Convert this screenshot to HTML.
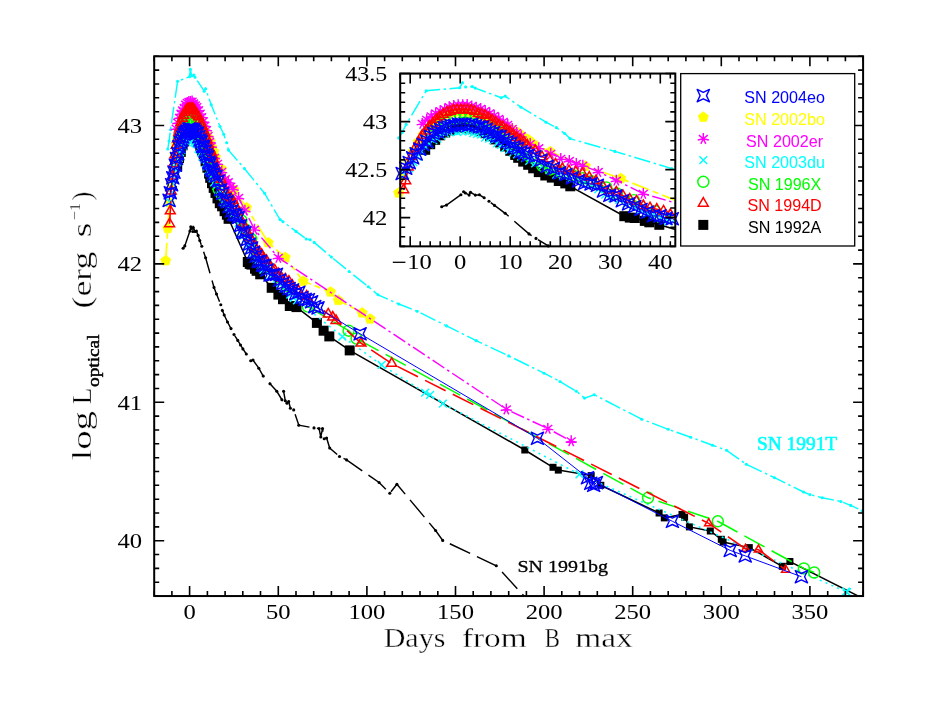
<!DOCTYPE html>
<html><head><meta charset="utf-8"><title>SN light curves</title>
<style>html,body{margin:0;padding:0;background:#fff}svg{display:block;will-change:transform}</style>
</head><body>
<svg width="948" height="708" viewBox="0 0 948 708">
<defs>
<g id="m04eo"><path d="M6.15 6.15 L0.00 3.20 L-6.15 6.15 L-3.20 0.00 L-6.15 -6.15 L-0.00 -3.20 L6.15 -6.15 L3.20 -0.00Z" fill="none" stroke="#0000ff" stroke-width="1.4" stroke-linejoin="round"/></g>
<g id="m02bo"><path d="M0.00 -5.40 L5.14 -1.67 L3.17 4.37 L-3.17 4.37 L-5.14 -1.67Z" fill="#ffff00" stroke="#ffff00" stroke-width="0.6"/></g>
<g id="m02er"><path d="M0 0L0.00 -5.70M0 0L-4.46 -3.55M0 0L-5.56 1.27M0 0L-2.47 5.14M0 0L2.47 5.14M0 0L5.56 1.27M0 0L4.46 -3.55" fill="none" stroke="#ff00ff" stroke-width="1.45"/></g>
<g id="m03du"><path d="M-3.9 -3.9L3.9 3.9M-3.9 3.9L3.9 -3.9" fill="none" stroke="#00ffff" stroke-width="1.45"/></g>
<g id="m96X"><circle r="5.5" fill="none" stroke="#00ff00" stroke-width="1.45"/></g>
<g id="m94D"><path d="M0 -5.7L4.95 2.85L-4.95 2.85Z" fill="none" stroke="#ff0000" stroke-width="1.5" stroke-linejoin="miter"/></g>
<g id="m92A"><rect x="-5" y="-5" width="10" height="10" fill="#000"/></g>
<g id="m92As"><rect x="-3.5" y="-3.5" width="7" height="7" fill="#000"/></g>
<g id="m94Ds"><path d="M0 -4.7L4.1 2.35L-4.1 2.35Z" fill="none" stroke="#ff0000" stroke-width="1.5" stroke-linejoin="miter"/></g>
<g id="m91T"><circle r="1.55" fill="#00ffff"/></g>
<g id="m91bg"><circle r="1.55" fill="#000"/></g>
<clipPath id="cm"><rect x="154.2" y="56.3" width="708.9000000000001" height="539.75"/></clipPath>
<clipPath id="ci"><rect x="400.2" y="73.55" width="275.09999999999997" height="172.8"/></clipPath>
</defs>
<rect width="948" height="708" fill="#fff"/>
<g>
<polyline clip-path="url(#cm)" points="167.8,149 169.1,141.1 170.5,129.7 177.6,81.2 189.5,76.8 190.4,69.4 191.6,75.7 193.9,75.1 195,77.3 204.2,91.2 205.6,88.8 211.2,104.7 220,126.5 223.7,134.2 226.7,142.8 228.5,150.1 244.4,168.5 264.6,193.3 280,219.6 283,221.7 296,231.4 306.3,239 310.2,239.7 314.2,242.4 331.4,257 349.1,271.5 368.3,286.7 378,294.8 398.8,304 417.2,311.2 446.6,325.9 476.2,340.6 508.7,355.9 544.1,373.2 560,381.5 576.3,391.2 584.5,398.1 594.2,394.7 641.7,419.2 668.2,429.3 690.7,437.2 712.5,445.2 726.6,450.3 746.3,464.3 774.5,477.7 803.6,492 809.9,494.6 822.3,497.8 840.9,501.5 850.7,505.4 862.2,510.7 870.2,514.4" fill="none" stroke="#00ffff" stroke-width="1.45" stroke-dasharray="16.5 3.5 2.5 3.5"/>
<use href="#m91T" x="167.8" y="149"/>
<use href="#m91T" x="169.1" y="141.1"/>
<use href="#m91T" x="170.5" y="129.7"/>
<use href="#m91T" x="177.6" y="81.2"/>
<use href="#m91T" x="189.5" y="76.8"/>
<use href="#m91T" x="190.4" y="69.4"/>
<use href="#m91T" x="191.6" y="75.7"/>
<use href="#m91T" x="193.9" y="75.1"/>
<use href="#m91T" x="195" y="77.3"/>
<use href="#m91T" x="204.2" y="91.2"/>
<use href="#m91T" x="205.6" y="88.8"/>
<use href="#m91T" x="211.2" y="104.7"/>
<use href="#m91T" x="220" y="126.5"/>
<use href="#m91T" x="223.7" y="134.2"/>
<use href="#m91T" x="226.7" y="142.8"/>
<use href="#m91T" x="228.5" y="150.1"/>
<use href="#m91T" x="244.4" y="168.5"/>
<use href="#m91T" x="264.6" y="193.3"/>
<use href="#m91T" x="280" y="219.6"/>
<use href="#m91T" x="283" y="221.7"/>
<use href="#m91T" x="296" y="231.4"/>
<use href="#m91T" x="306.3" y="239"/>
<use href="#m91T" x="310.2" y="239.7"/>
<use href="#m91T" x="314.2" y="242.4"/>
<use href="#m91T" x="331.4" y="257"/>
<use href="#m91T" x="349.1" y="271.5"/>
<use href="#m91T" x="368.3" y="286.7"/>
<use href="#m91T" x="378" y="294.8"/>
<use href="#m91T" x="398.8" y="304"/>
<use href="#m91T" x="417.2" y="311.2"/>
<use href="#m91T" x="446.6" y="325.9"/>
<use href="#m91T" x="476.2" y="340.6"/>
<use href="#m91T" x="508.7" y="355.9"/>
<use href="#m91T" x="544.1" y="373.2"/>
<use href="#m91T" x="560" y="381.5"/>
<use href="#m91T" x="576.3" y="391.2"/>
<use href="#m91T" x="584.5" y="398.1"/>
<use href="#m91T" x="594.2" y="394.7"/>
<use href="#m91T" x="641.7" y="419.2"/>
<use href="#m91T" x="668.2" y="429.3"/>
<use href="#m91T" x="690.7" y="437.2"/>
<use href="#m91T" x="712.5" y="445.2"/>
<use href="#m91T" x="726.6" y="450.3"/>
<use href="#m91T" x="746.3" y="464.3"/>
<use href="#m91T" x="774.5" y="477.7"/>
<use href="#m91T" x="803.6" y="492"/>
<use href="#m91T" x="809.9" y="494.6"/>
<use href="#m91T" x="822.3" y="497.8"/>
<use href="#m91T" x="840.9" y="501.5"/>
<use href="#m91T" x="850.7" y="505.4"/>
<use href="#m91T" x="862.2" y="510.7"/>
<polyline clip-path="url(#cm)" points="183.1,248.3 184.8,245.9 189.9,231.1 190.8,226.7 191.5,228.5 192.8,231.5 193.3,227.5 195,231.5 196.4,231.1 198.1,235.4 199.8,240.5 201.8,246.3 205.6,257.8 214,287.4 216.5,294 220.8,304.8 222.4,310.5 224.2,315 227.5,322 231,328.6 234,334.5 237.8,340.4 240.5,345 242.9,348.9 246.3,354 250.7,360.8 253,360 258.8,368.2 263.2,376 270,383.8 276.8,391.3 281.9,399.7 283.6,391.3 285.3,400.8 287,403.2 288.7,401.5 290.4,408.2 293.7,409.9 298.8,425.2 314,427.9 319.1,428.6 320.8,437 322.5,428.6 324.2,438.7 326.6,438 329.7,448 339.5,456.5 346.6,459.9 379.1,482.5 389.8,493.2 396.9,484.2 435.6,530.5 442.7,540.4 496.3,565.8 530,602.5" fill="none" stroke="#000000" stroke-width="1.45" stroke-dasharray="22.5 7.5"/>
<use href="#m91bg" x="183.1" y="248.3"/>
<use href="#m91bg" x="184.8" y="245.9"/>
<use href="#m91bg" x="189.9" y="231.1"/>
<use href="#m91bg" x="190.8" y="226.7"/>
<use href="#m91bg" x="191.5" y="228.5"/>
<use href="#m91bg" x="192.8" y="231.5"/>
<use href="#m91bg" x="193.3" y="227.5"/>
<use href="#m91bg" x="195" y="231.5"/>
<use href="#m91bg" x="196.4" y="231.1"/>
<use href="#m91bg" x="198.1" y="235.4"/>
<use href="#m91bg" x="199.8" y="240.5"/>
<use href="#m91bg" x="201.8" y="246.3"/>
<use href="#m91bg" x="205.6" y="257.8"/>
<use href="#m91bg" x="214" y="287.4"/>
<use href="#m91bg" x="216.5" y="294"/>
<use href="#m91bg" x="220.8" y="304.8"/>
<use href="#m91bg" x="222.4" y="310.5"/>
<use href="#m91bg" x="224.2" y="315"/>
<use href="#m91bg" x="227.5" y="322"/>
<use href="#m91bg" x="231" y="328.6"/>
<use href="#m91bg" x="234" y="334.5"/>
<use href="#m91bg" x="237.8" y="340.4"/>
<use href="#m91bg" x="240.5" y="345"/>
<use href="#m91bg" x="242.9" y="348.9"/>
<use href="#m91bg" x="246.3" y="354"/>
<use href="#m91bg" x="250.7" y="360.8"/>
<use href="#m91bg" x="253" y="360"/>
<use href="#m91bg" x="258.8" y="368.2"/>
<use href="#m91bg" x="263.2" y="376"/>
<use href="#m91bg" x="270" y="383.8"/>
<use href="#m91bg" x="276.8" y="391.3"/>
<use href="#m91bg" x="281.9" y="399.7"/>
<use href="#m91bg" x="283.6" y="391.3"/>
<use href="#m91bg" x="285.3" y="400.8"/>
<use href="#m91bg" x="287" y="403.2"/>
<use href="#m91bg" x="288.7" y="401.5"/>
<use href="#m91bg" x="290.4" y="408.2"/>
<use href="#m91bg" x="293.7" y="409.9"/>
<use href="#m91bg" x="298.8" y="425.2"/>
<use href="#m91bg" x="314" y="427.9"/>
<use href="#m91bg" x="319.1" y="428.6"/>
<use href="#m91bg" x="320.8" y="437"/>
<use href="#m91bg" x="322.5" y="428.6"/>
<use href="#m91bg" x="324.2" y="438.7"/>
<use href="#m91bg" x="326.6" y="438"/>
<use href="#m91bg" x="329.7" y="448"/>
<use href="#m91bg" x="339.5" y="456.5"/>
<use href="#m91bg" x="346.6" y="459.9"/>
<use href="#m91bg" x="379.1" y="482.5"/>
<use href="#m91bg" x="389.8" y="493.2"/>
<use href="#m91bg" x="396.9" y="484.2"/>
<use href="#m91bg" x="435.6" y="530.5"/>
<use href="#m91bg" x="442.7" y="540.4"/>
<use href="#m91bg" x="496.3" y="565.8"/>
<polyline clip-path="url(#cm)" points="177.2,166.3 179,158.1 180.8,151.9 182.6,145.3 184.3,141.3 186.1,138.2 187.9,135.4 189.6,132.6 191.4,134.5 193.2,135.5 195,136.7 196.7,139.1 198.5,142.3 200.3,146.6 202.1,151.3 203.8,155.7 205.6,161.3 207.4,167.7 209.1,173.6 210.2,177.8 212,183.2 213.7,187.9 215.5,192.9 217.5,198.4 219.8,203.2 222.1,206.3 224.6,211.2 226.9,214.7 228.6,218.8 247.8,262 249.7,263.9 251.5,264.6 255,268.7 256.6,270.8 260.2,274.3 271.7,287.8 278.4,294.6 283,299.2 289.8,306 296.5,307.1 316.9,322.9 323.6,330.7 329.3,336.4 349.7,350.4 524.8,450 553,467.3 558.3,470.1 591.2,475.6 600.8,485.3 659.1,513 664.3,517.9 682,514.4 684.6,517.2 689.4,526.9 710.3,531 721.3,539.3 723.1,542.1 749.3,547.6 782.3,566.3 789.9,561.5 872,603" fill="none" stroke="#000000" stroke-width="1.5"/>
<use href="#m92A" x="177.2" y="166.3"/>
<use href="#m92A" x="179" y="158.1"/>
<use href="#m92A" x="180.8" y="151.9"/>
<use href="#m92A" x="182.6" y="145.3"/>
<use href="#m92A" x="184.3" y="141.3"/>
<use href="#m92A" x="186.1" y="138.2"/>
<use href="#m92A" x="187.9" y="135.4"/>
<use href="#m92A" x="189.6" y="132.6"/>
<use href="#m92A" x="191.4" y="134.5"/>
<use href="#m92A" x="193.2" y="135.5"/>
<use href="#m92A" x="195" y="136.7"/>
<use href="#m92A" x="196.7" y="139.1"/>
<use href="#m92A" x="198.5" y="142.3"/>
<use href="#m92A" x="200.3" y="146.6"/>
<use href="#m92A" x="202.1" y="151.3"/>
<use href="#m92A" x="203.8" y="155.7"/>
<use href="#m92A" x="205.6" y="161.3"/>
<use href="#m92A" x="207.4" y="167.7"/>
<use href="#m92A" x="209.1" y="173.6"/>
<use href="#m92A" x="210.2" y="177.8"/>
<use href="#m92A" x="212" y="183.2"/>
<use href="#m92A" x="213.7" y="187.9"/>
<use href="#m92A" x="215.5" y="192.9"/>
<use href="#m92A" x="217.5" y="198.4"/>
<use href="#m92A" x="219.8" y="203.2"/>
<use href="#m92A" x="222.1" y="206.3"/>
<use href="#m92A" x="224.6" y="211.2"/>
<use href="#m92A" x="226.9" y="214.7"/>
<use href="#m92A" x="228.6" y="218.8"/>
<use href="#m92A" x="247.8" y="262"/>
<use href="#m92A" x="249.7" y="263.9"/>
<use href="#m92A" x="251.5" y="264.6"/>
<use href="#m92A" x="255" y="268.7"/>
<use href="#m92A" x="256.6" y="270.8"/>
<use href="#m92A" x="260.2" y="274.3"/>
<use href="#m92A" x="271.7" y="287.8"/>
<use href="#m92A" x="278.4" y="294.6"/>
<use href="#m92A" x="283" y="299.2"/>
<use href="#m92A" x="289.8" y="306"/>
<use href="#m92A" x="296.5" y="307.1"/>
<use href="#m92A" x="316.9" y="322.9"/>
<use href="#m92A" x="323.6" y="330.7"/>
<use href="#m92A" x="329.3" y="336.4"/>
<use href="#m92A" x="349.7" y="350.4"/>
<use href="#m92As" x="524.8" y="450"/>
<use href="#m92As" x="553" y="467.3"/>
<use href="#m92As" x="558.3" y="470.1"/>
<use href="#m92As" x="591.2" y="475.6"/>
<use href="#m92As" x="600.8" y="485.3"/>
<use href="#m92As" x="659.1" y="513"/>
<use href="#m92As" x="664.3" y="517.9"/>
<use href="#m92As" x="682" y="514.4"/>
<use href="#m92As" x="684.6" y="517.2"/>
<use href="#m92As" x="689.4" y="526.9"/>
<use href="#m92As" x="710.3" y="531"/>
<use href="#m92As" x="721.3" y="539.3"/>
<use href="#m92As" x="723.1" y="542.1"/>
<use href="#m92As" x="749.3" y="547.6"/>
<use href="#m92As" x="782.3" y="566.3"/>
<use href="#m92As" x="789.9" y="561.5"/>
<polyline clip-path="url(#cm)" points="165.7,260.7 167.8,228.4 169.4,202.6 171.2,183.7 173,168.5 174.8,154.9 176.5,144.7 178.3,135.5 180.1,128.7 181.8,122.7 183.6,117.4 185.4,113.8 187.2,112.2 188.9,110.8 190.7,110.8 192.5,112 194.3,113.2 196,115.8 197.8,118.2 199.6,119.7 201.3,123.7 203.1,127.8 204.9,131.2 206.7,134.8 208.4,137.7 210.2,141.6 212,147.4 213.7,151.6 215.5,157.2 221.5,169 234,189.8 246.5,207.6 268.2,242.6 285.2,257.4 303.2,281.1 330.5,291.9 338.3,300.3 362.1,312.8 370.1,319" fill="none" stroke="#ffff00" stroke-width="1.7" stroke-dasharray="18 4 6 4"/>
<use href="#m02bo" x="165.7" y="260.7"/>
<use href="#m02bo" x="167.8" y="228.4"/>
<use href="#m02bo" x="169.4" y="202.6"/>
<use href="#m02bo" x="171.2" y="183.7"/>
<use href="#m02bo" x="173" y="168.5"/>
<use href="#m02bo" x="174.8" y="154.9"/>
<use href="#m02bo" x="176.5" y="144.7"/>
<use href="#m02bo" x="178.3" y="135.5"/>
<use href="#m02bo" x="180.1" y="128.7"/>
<use href="#m02bo" x="181.8" y="122.7"/>
<use href="#m02bo" x="183.6" y="117.4"/>
<use href="#m02bo" x="185.4" y="113.8"/>
<use href="#m02bo" x="187.2" y="112.2"/>
<use href="#m02bo" x="188.9" y="110.8"/>
<use href="#m02bo" x="190.7" y="110.8"/>
<use href="#m02bo" x="192.5" y="112"/>
<use href="#m02bo" x="194.3" y="113.2"/>
<use href="#m02bo" x="196" y="115.8"/>
<use href="#m02bo" x="197.8" y="118.2"/>
<use href="#m02bo" x="199.6" y="119.7"/>
<use href="#m02bo" x="201.3" y="123.7"/>
<use href="#m02bo" x="203.1" y="127.8"/>
<use href="#m02bo" x="204.9" y="131.2"/>
<use href="#m02bo" x="206.7" y="134.8"/>
<use href="#m02bo" x="208.4" y="137.7"/>
<use href="#m02bo" x="210.2" y="141.6"/>
<use href="#m02bo" x="212" y="147.4"/>
<use href="#m02bo" x="213.7" y="151.6"/>
<use href="#m02bo" x="215.5" y="157.2"/>
<use href="#m02bo" x="221.5" y="169"/>
<use href="#m02bo" x="234" y="189.8"/>
<use href="#m02bo" x="246.5" y="207.6"/>
<use href="#m02bo" x="268.2" y="242.6"/>
<use href="#m02bo" x="285.2" y="257.4"/>
<use href="#m02bo" x="303.2" y="281.1"/>
<use href="#m02bo" x="330.5" y="291.9"/>
<use href="#m02bo" x="338.3" y="300.3"/>
<use href="#m02bo" x="362.1" y="312.8"/>
<use href="#m02bo" x="370.1" y="319"/>
<polyline clip-path="url(#cm)" points="176.2,128.5 177.8,122.5 179.4,117.5 181,113.4 182.6,110.2 184.2,107.6 185.7,104.4 187.3,102.7 188.9,101.6 190.5,101.7 192.1,101.3 193.7,103.2 195.3,105.2 196.9,106.8 198.5,109.9 200.1,113.4 201.7,116.8 203.3,121.1 204.9,125.5 206.5,129.8 208.1,135.8 209.7,141.7 211.3,146.2 214.5,157.5 217.5,163.5 221.7,171.6 225.3,178.9 228.3,181.9 230.8,186.3 233.1,188.9 238.6,197.7 244.9,210.4 254.5,229.4 278.3,257.6 506.3,409.2 547.8,428.6 571.2,441" fill="none" stroke="#ff00ff" stroke-width="1.45" stroke-dasharray="14 3.5 2.5 3.5"/>
<use href="#m02er" x="176.2" y="128.5"/>
<use href="#m02er" x="177.8" y="122.5"/>
<use href="#m02er" x="179.4" y="117.5"/>
<use href="#m02er" x="181" y="113.4"/>
<use href="#m02er" x="182.6" y="110.2"/>
<use href="#m02er" x="184.2" y="107.6"/>
<use href="#m02er" x="185.7" y="104.4"/>
<use href="#m02er" x="187.3" y="102.7"/>
<use href="#m02er" x="188.9" y="101.6"/>
<use href="#m02er" x="190.5" y="101.7"/>
<use href="#m02er" x="192.1" y="101.3"/>
<use href="#m02er" x="193.7" y="103.2"/>
<use href="#m02er" x="195.3" y="105.2"/>
<use href="#m02er" x="196.9" y="106.8"/>
<use href="#m02er" x="198.5" y="109.9"/>
<use href="#m02er" x="200.1" y="113.4"/>
<use href="#m02er" x="201.7" y="116.8"/>
<use href="#m02er" x="203.3" y="121.1"/>
<use href="#m02er" x="204.9" y="125.5"/>
<use href="#m02er" x="206.5" y="129.8"/>
<use href="#m02er" x="208.1" y="135.8"/>
<use href="#m02er" x="209.7" y="141.7"/>
<use href="#m02er" x="211.3" y="146.2"/>
<use href="#m02er" x="214.5" y="157.5"/>
<use href="#m02er" x="217.5" y="163.5"/>
<use href="#m02er" x="221.7" y="171.6"/>
<use href="#m02er" x="225.3" y="178.9"/>
<use href="#m02er" x="228.3" y="181.9"/>
<use href="#m02er" x="230.8" y="186.3"/>
<use href="#m02er" x="233.1" y="188.9"/>
<use href="#m02er" x="238.6" y="197.7"/>
<use href="#m02er" x="244.9" y="210.4"/>
<use href="#m02er" x="254.5" y="229.4"/>
<use href="#m02er" x="278.3" y="257.6"/>
<use href="#m02er" x="506.3" y="409.2"/>
<use href="#m02er" x="547.8" y="428.6"/>
<use href="#m02er" x="571.2" y="441"/>
<polyline clip-path="url(#cm)" points="170.2,202.4 171.6,193 173,183.8 174.4,175.8 175.8,169 177.2,162.4 178.7,157.9 180.1,152.3 181.5,149.9 182.9,145.7 184.3,142.7 185.7,140.9 187.2,139.3 188.6,140.7 190,138.8 191.4,138.9 192.8,139.8 194.3,142.3 195.7,143.1 197.1,144.1 198.5,148.8 199.9,150.1 201.3,152.5 202.8,156.8 204.2,159.1 205.6,163.6 207,166.7 208.4,170.1 209.8,172.8 211.3,176.1 212.7,178.3 214.1,182.3 216.2,185.8 218.7,189.7 221.2,195.3 223.7,202.1 226.2,203.8 228.6,208 231.1,209.9 233.6,213.2 236.1,216.6 238.6,223.2 241,231 243.5,235.7 246,238.4 248.5,244.5 251,247.5 253.4,252.8 255.9,258.1 258.4,259.8 260.9,265.2 263.4,269.5 266.7,268.3 270.1,275.9 273.5,276.1 276.8,278.8 280.2,282.9 283.6,288.2 286.9,288.5 290.3,294.6 293.7,298 297,300.4 342.4,336.6 381.6,364.9 425.2,392.7 430.1,394.8 442.9,403.7 579.5,474.3 845.9,591.6 847,592.2" fill="none" stroke="#00ffff" stroke-width="1.6" stroke-dasharray="2 4.3"/>
<use href="#m03du" x="170.2" y="202.4"/>
<use href="#m03du" x="171.6" y="193"/>
<use href="#m03du" x="173" y="183.8"/>
<use href="#m03du" x="174.4" y="175.8"/>
<use href="#m03du" x="175.8" y="169"/>
<use href="#m03du" x="177.2" y="162.4"/>
<use href="#m03du" x="178.7" y="157.9"/>
<use href="#m03du" x="180.1" y="152.3"/>
<use href="#m03du" x="181.5" y="149.9"/>
<use href="#m03du" x="182.9" y="145.7"/>
<use href="#m03du" x="184.3" y="142.7"/>
<use href="#m03du" x="185.7" y="140.9"/>
<use href="#m03du" x="187.2" y="139.3"/>
<use href="#m03du" x="188.6" y="140.7"/>
<use href="#m03du" x="190" y="138.8"/>
<use href="#m03du" x="191.4" y="138.9"/>
<use href="#m03du" x="192.8" y="139.8"/>
<use href="#m03du" x="194.3" y="142.3"/>
<use href="#m03du" x="195.7" y="143.1"/>
<use href="#m03du" x="197.1" y="144.1"/>
<use href="#m03du" x="198.5" y="148.8"/>
<use href="#m03du" x="199.9" y="150.1"/>
<use href="#m03du" x="201.3" y="152.5"/>
<use href="#m03du" x="202.8" y="156.8"/>
<use href="#m03du" x="204.2" y="159.1"/>
<use href="#m03du" x="205.6" y="163.6"/>
<use href="#m03du" x="207" y="166.7"/>
<use href="#m03du" x="208.4" y="170.1"/>
<use href="#m03du" x="209.8" y="172.8"/>
<use href="#m03du" x="211.3" y="176.1"/>
<use href="#m03du" x="212.7" y="178.3"/>
<use href="#m03du" x="214.1" y="182.3"/>
<use href="#m03du" x="216.2" y="185.8"/>
<use href="#m03du" x="218.7" y="189.7"/>
<use href="#m03du" x="221.2" y="195.3"/>
<use href="#m03du" x="223.7" y="202.1"/>
<use href="#m03du" x="226.2" y="203.8"/>
<use href="#m03du" x="228.6" y="208"/>
<use href="#m03du" x="231.1" y="209.9"/>
<use href="#m03du" x="233.6" y="213.2"/>
<use href="#m03du" x="236.1" y="216.6"/>
<use href="#m03du" x="238.6" y="223.2"/>
<use href="#m03du" x="241" y="231"/>
<use href="#m03du" x="243.5" y="235.7"/>
<use href="#m03du" x="246" y="238.4"/>
<use href="#m03du" x="248.5" y="244.5"/>
<use href="#m03du" x="251" y="247.5"/>
<use href="#m03du" x="253.4" y="252.8"/>
<use href="#m03du" x="255.9" y="258.1"/>
<use href="#m03du" x="258.4" y="259.8"/>
<use href="#m03du" x="260.9" y="265.2"/>
<use href="#m03du" x="263.4" y="269.5"/>
<use href="#m03du" x="266.7" y="268.3"/>
<use href="#m03du" x="270.1" y="275.9"/>
<use href="#m03du" x="273.5" y="276.1"/>
<use href="#m03du" x="276.8" y="278.8"/>
<use href="#m03du" x="280.2" y="282.9"/>
<use href="#m03du" x="283.6" y="288.2"/>
<use href="#m03du" x="286.9" y="288.5"/>
<use href="#m03du" x="290.3" y="294.6"/>
<use href="#m03du" x="293.7" y="298"/>
<use href="#m03du" x="297" y="300.4"/>
<use href="#m03du" x="342.4" y="336.6"/>
<use href="#m03du" x="381.6" y="364.9"/>
<use href="#m03du" x="425.2" y="392.7"/>
<use href="#m03du" x="430.1" y="394.8"/>
<use href="#m03du" x="442.9" y="403.7"/>
<use href="#m03du" x="579.5" y="474.3"/>
<use href="#m03du" x="845.9" y="591.6"/>
<use href="#m03du" x="847" y="592.2"/>
<polyline clip-path="url(#cm)" points="179,138.9 180.8,132.9 182.6,127.8 184.3,124.9 186.1,122.1 187.9,120.8 189.6,119.4 191.4,119.4 193.2,120.8 195,122.1 196.7,125.1 198.5,128.3 200.3,131.7 202.1,136.1 203.8,140.4 205.6,146 207.4,150.8 209.1,157.7 210.9,163.7 212.7,170.8 214.5,176.7 218.7,189.5 221.5,194.5 225.1,198.2 229.5,202.8 233.1,207.4 236.1,211.6 241.4,220.5 245.1,229.2 251.1,238.8 258.8,254.9 267.6,266.2 278.3,277.1 288.9,286.7 307.9,306.6 348.6,330.7 356.6,338.6 648.1,497.8 717.8,521.3 803.9,568.4 814.2,572.5" fill="none" stroke="#00ff00" stroke-width="1.5" stroke-dasharray="23 8"/>
<use href="#m96X" x="179" y="138.9"/>
<use href="#m96X" x="180.8" y="132.9"/>
<use href="#m96X" x="182.6" y="127.8"/>
<use href="#m96X" x="184.3" y="124.9"/>
<use href="#m96X" x="186.1" y="122.1"/>
<use href="#m96X" x="187.9" y="120.8"/>
<use href="#m96X" x="189.6" y="119.4"/>
<use href="#m96X" x="191.4" y="119.4"/>
<use href="#m96X" x="193.2" y="120.8"/>
<use href="#m96X" x="195" y="122.1"/>
<use href="#m96X" x="196.7" y="125.1"/>
<use href="#m96X" x="198.5" y="128.3"/>
<use href="#m96X" x="200.3" y="131.7"/>
<use href="#m96X" x="202.1" y="136.1"/>
<use href="#m96X" x="203.8" y="140.4"/>
<use href="#m96X" x="205.6" y="146"/>
<use href="#m96X" x="207.4" y="150.8"/>
<use href="#m96X" x="209.1" y="157.7"/>
<use href="#m96X" x="210.9" y="163.7"/>
<use href="#m96X" x="212.7" y="170.8"/>
<use href="#m96X" x="214.5" y="176.7"/>
<use href="#m96X" x="218.7" y="189.5"/>
<use href="#m96X" x="221.5" y="194.5"/>
<use href="#m96X" x="225.1" y="198.2"/>
<use href="#m96X" x="229.5" y="202.8"/>
<use href="#m96X" x="233.1" y="207.4"/>
<use href="#m96X" x="236.1" y="211.6"/>
<use href="#m96X" x="241.4" y="220.5"/>
<use href="#m96X" x="245.1" y="229.2"/>
<use href="#m96X" x="251.1" y="238.8"/>
<use href="#m96X" x="258.8" y="254.9"/>
<use href="#m96X" x="267.6" y="266.2"/>
<use href="#m96X" x="278.3" y="277.1"/>
<use href="#m96X" x="288.9" y="286.7"/>
<use href="#m96X" x="307.9" y="306.6"/>
<use href="#m96X" x="348.6" y="330.7"/>
<use href="#m96X" x="356.6" y="338.6"/>
<use href="#m96X" x="648.1" y="497.8"/>
<use href="#m96X" x="717.8" y="521.3"/>
<use href="#m96X" x="803.9" y="568.4"/>
<use href="#m96X" x="814.2" y="572.5"/>
<polyline clip-path="url(#cm)" points="169.6,223.8 170.3,211 171.2,191.2 172.5,176.2 173.7,163.8 174.9,154.9 176.2,145.3 177.4,139.2 178.7,132.7 179.9,128 181.1,122.4 182.4,118.5 183.6,115.3 184.9,112.3 186.1,110.7 187.3,108.9 188.6,108.8 189.8,108.8 191.1,108.5 192.3,108.7 193.5,109.2 194.8,110.9 196,114.2 197.3,115.1 198.5,116.8 199.7,120.1 201,123.4 202.2,126.3 203.5,130.3 204.7,133.2 205.9,137.2 207.2,140.1 208.4,144.3 209.7,148.6 210.9,151.5 212.2,154.9 213.4,159.3 216.2,167.5 218.6,176.3 221,179.3 223.4,187 225.8,193.5 228.2,196.7 230.6,198.1 233,200.5 235.4,205.9 237.8,211 240.2,218.7 242.5,224.7 244.9,227.2 247.3,232.5 249.7,237.6 252.1,240.4 254.5,246.8 256.9,250 259.3,252 261.7,254.5 264.1,259.7 266.5,260.6 271.2,267.8 274.7,270.1 278.3,273.8 281.8,278.4 285.3,279.3 288.9,281.4 292.4,285.5 298.6,291 306.6,296.3 328.2,314.1 332.7,317.2 336,320.6 361,343.2 391.7,363.5 708.7,523.4 745.6,549 758.4,549.7 785.7,569.8" fill="none" stroke="#ff0000" stroke-width="1.6" stroke-dasharray="23 8"/>
<use href="#m94D" x="169.6" y="223.8"/>
<use href="#m94D" x="170.3" y="211"/>
<use href="#m94D" x="171.2" y="191.2"/>
<use href="#m94D" x="172.5" y="176.2"/>
<use href="#m94D" x="173.7" y="163.8"/>
<use href="#m94D" x="174.9" y="154.9"/>
<use href="#m94D" x="176.2" y="145.3"/>
<use href="#m94D" x="177.4" y="139.2"/>
<use href="#m94D" x="178.7" y="132.7"/>
<use href="#m94D" x="179.9" y="128"/>
<use href="#m94D" x="181.1" y="122.4"/>
<use href="#m94D" x="182.4" y="118.5"/>
<use href="#m94D" x="183.6" y="115.3"/>
<use href="#m94D" x="184.9" y="112.3"/>
<use href="#m94D" x="186.1" y="110.7"/>
<use href="#m94D" x="187.3" y="108.9"/>
<use href="#m94D" x="188.6" y="108.8"/>
<use href="#m94D" x="189.8" y="108.8"/>
<use href="#m94D" x="191.1" y="108.5"/>
<use href="#m94D" x="192.3" y="108.7"/>
<use href="#m94D" x="193.5" y="109.2"/>
<use href="#m94D" x="194.8" y="110.9"/>
<use href="#m94D" x="196" y="114.2"/>
<use href="#m94D" x="197.3" y="115.1"/>
<use href="#m94D" x="198.5" y="116.8"/>
<use href="#m94D" x="199.7" y="120.1"/>
<use href="#m94D" x="201" y="123.4"/>
<use href="#m94D" x="202.2" y="126.3"/>
<use href="#m94D" x="203.5" y="130.3"/>
<use href="#m94D" x="204.7" y="133.2"/>
<use href="#m94D" x="205.9" y="137.2"/>
<use href="#m94D" x="207.2" y="140.1"/>
<use href="#m94D" x="208.4" y="144.3"/>
<use href="#m94D" x="209.7" y="148.6"/>
<use href="#m94D" x="210.9" y="151.5"/>
<use href="#m94D" x="212.2" y="154.9"/>
<use href="#m94D" x="213.4" y="159.3"/>
<use href="#m94D" x="216.2" y="167.5"/>
<use href="#m94D" x="218.6" y="176.3"/>
<use href="#m94D" x="221" y="179.3"/>
<use href="#m94D" x="223.4" y="187"/>
<use href="#m94D" x="225.8" y="193.5"/>
<use href="#m94D" x="228.2" y="196.7"/>
<use href="#m94D" x="230.6" y="198.1"/>
<use href="#m94D" x="233" y="200.5"/>
<use href="#m94D" x="235.4" y="205.9"/>
<use href="#m94D" x="237.8" y="211"/>
<use href="#m94D" x="240.2" y="218.7"/>
<use href="#m94D" x="242.5" y="224.7"/>
<use href="#m94D" x="244.9" y="227.2"/>
<use href="#m94D" x="247.3" y="232.5"/>
<use href="#m94D" x="249.7" y="237.6"/>
<use href="#m94D" x="252.1" y="240.4"/>
<use href="#m94D" x="254.5" y="246.8"/>
<use href="#m94D" x="256.9" y="250"/>
<use href="#m94D" x="259.3" y="252"/>
<use href="#m94D" x="261.7" y="254.5"/>
<use href="#m94D" x="264.1" y="259.7"/>
<use href="#m94D" x="266.5" y="260.6"/>
<use href="#m94D" x="271.2" y="267.8"/>
<use href="#m94D" x="274.7" y="270.1"/>
<use href="#m94D" x="278.3" y="273.8"/>
<use href="#m94D" x="281.8" y="278.4"/>
<use href="#m94D" x="285.3" y="279.3"/>
<use href="#m94D" x="288.9" y="281.4"/>
<use href="#m94D" x="292.4" y="285.5"/>
<use href="#m94D" x="298.6" y="291"/>
<use href="#m94D" x="306.6" y="296.3"/>
<use href="#m94D" x="328.2" y="314.1"/>
<use href="#m94D" x="332.7" y="317.2"/>
<use href="#m94D" x="336" y="320.6"/>
<use href="#m94D" x="361" y="343.2"/>
<use href="#m94D" x="391.7" y="363.5"/>
<use href="#m94Ds" x="708.7" y="523.4"/>
<use href="#m94Ds" x="745.6" y="549"/>
<use href="#m94Ds" x="758.4" y="549.7"/>
<use href="#m94Ds" x="785.7" y="569.8"/>
<polyline clip-path="url(#cm)" points="169.1,200.4 170.3,192.7 171.6,184.7 172.8,177.8 174,172.1 175.3,165.2 176.5,158.5 177.8,153.6 179,146.6 180.3,142.5 181.5,140.1 182.7,137 184,134.3 185.2,132.9 186.5,131.4 187.7,131.2 188.9,129.1 190.2,129.3 191.4,129.4 192.7,131 193.9,129.3 195.1,131.4 196.4,133.2 197.6,133.2 198.9,136.7 200.1,140 201.3,141.9 202.6,146.1 203.8,146.9 205.1,151.1 206.3,154.7 207.5,156.8 208.8,162.1 210,163.9 211.3,168.9 212.5,170.9 213.7,174 216.1,176.1 218.3,181 220.5,189.8 222.7,193.4 224.9,199.5 227.1,201.9 229.3,206.7 231.6,211 233.8,214.4 236,215.3 238.2,217.5 240.4,225.7 242.6,231.8 244.9,232.7 247.1,239.7 249.3,244.2 251.5,248 253.7,252.4 255.9,256.3 258.1,261.4 260.4,261.5 262.6,265.2 264.8,265.5 267,270 270.1,275 273.3,274.7 276.5,274.4 279.7,280.1 282.9,283.4 286.1,286.4 289.2,288.6 292.4,290 295.6,293.8 298.8,292.3 302,297.5 305.2,299.4 308.4,299.7 311.6,301.8 314.8,306.6 318,307.9 360.1,333.8 537.4,438.3 587.5,477.7 590.7,483.3 593.7,485.3 596.4,482.6 672.4,521.3 730.2,550.4 745.2,555.9 801.4,576.7" fill="none" stroke="#0000ff" stroke-width="1.0"/>
<use href="#m04eo" x="169.1" y="200.4"/>
<use href="#m04eo" x="170.3" y="192.7"/>
<use href="#m04eo" x="171.6" y="184.7"/>
<use href="#m04eo" x="172.8" y="177.8"/>
<use href="#m04eo" x="174" y="172.1"/>
<use href="#m04eo" x="175.3" y="165.2"/>
<use href="#m04eo" x="176.5" y="158.5"/>
<use href="#m04eo" x="177.8" y="153.6"/>
<use href="#m04eo" x="179" y="146.6"/>
<use href="#m04eo" x="180.3" y="142.5"/>
<use href="#m04eo" x="181.5" y="140.1"/>
<use href="#m04eo" x="182.7" y="137"/>
<use href="#m04eo" x="184" y="134.3"/>
<use href="#m04eo" x="185.2" y="132.9"/>
<use href="#m04eo" x="186.5" y="131.4"/>
<use href="#m04eo" x="187.7" y="131.2"/>
<use href="#m04eo" x="188.9" y="129.1"/>
<use href="#m04eo" x="190.2" y="129.3"/>
<use href="#m04eo" x="191.4" y="129.4"/>
<use href="#m04eo" x="192.7" y="131"/>
<use href="#m04eo" x="193.9" y="129.3"/>
<use href="#m04eo" x="195.1" y="131.4"/>
<use href="#m04eo" x="196.4" y="133.2"/>
<use href="#m04eo" x="197.6" y="133.2"/>
<use href="#m04eo" x="198.9" y="136.7"/>
<use href="#m04eo" x="200.1" y="140"/>
<use href="#m04eo" x="201.3" y="141.9"/>
<use href="#m04eo" x="202.6" y="146.1"/>
<use href="#m04eo" x="203.8" y="146.9"/>
<use href="#m04eo" x="205.1" y="151.1"/>
<use href="#m04eo" x="206.3" y="154.7"/>
<use href="#m04eo" x="207.5" y="156.8"/>
<use href="#m04eo" x="208.8" y="162.1"/>
<use href="#m04eo" x="210" y="163.9"/>
<use href="#m04eo" x="211.3" y="168.9"/>
<use href="#m04eo" x="212.5" y="170.9"/>
<use href="#m04eo" x="213.7" y="174"/>
<use href="#m04eo" x="216.1" y="176.1"/>
<use href="#m04eo" x="218.3" y="181"/>
<use href="#m04eo" x="220.5" y="189.8"/>
<use href="#m04eo" x="222.7" y="193.4"/>
<use href="#m04eo" x="224.9" y="199.5"/>
<use href="#m04eo" x="227.1" y="201.9"/>
<use href="#m04eo" x="229.3" y="206.7"/>
<use href="#m04eo" x="231.6" y="211"/>
<use href="#m04eo" x="233.8" y="214.4"/>
<use href="#m04eo" x="236" y="215.3"/>
<use href="#m04eo" x="238.2" y="217.5"/>
<use href="#m04eo" x="240.4" y="225.7"/>
<use href="#m04eo" x="242.6" y="231.8"/>
<use href="#m04eo" x="244.9" y="232.7"/>
<use href="#m04eo" x="247.1" y="239.7"/>
<use href="#m04eo" x="249.3" y="244.2"/>
<use href="#m04eo" x="251.5" y="248"/>
<use href="#m04eo" x="253.7" y="252.4"/>
<use href="#m04eo" x="255.9" y="256.3"/>
<use href="#m04eo" x="258.1" y="261.4"/>
<use href="#m04eo" x="260.4" y="261.5"/>
<use href="#m04eo" x="262.6" y="265.2"/>
<use href="#m04eo" x="264.8" y="265.5"/>
<use href="#m04eo" x="267" y="270"/>
<use href="#m04eo" x="270.1" y="275"/>
<use href="#m04eo" x="273.3" y="274.7"/>
<use href="#m04eo" x="276.5" y="274.4"/>
<use href="#m04eo" x="279.7" y="280.1"/>
<use href="#m04eo" x="282.9" y="283.4"/>
<use href="#m04eo" x="286.1" y="286.4"/>
<use href="#m04eo" x="289.2" y="288.6"/>
<use href="#m04eo" x="292.4" y="290"/>
<use href="#m04eo" x="295.6" y="293.8"/>
<use href="#m04eo" x="298.8" y="292.3"/>
<use href="#m04eo" x="302" y="297.5"/>
<use href="#m04eo" x="305.2" y="299.4"/>
<use href="#m04eo" x="308.4" y="299.7"/>
<use href="#m04eo" x="311.6" y="301.8"/>
<use href="#m04eo" x="314.8" y="306.6"/>
<use href="#m04eo" x="318" y="307.9"/>
<use href="#m04eo" x="360.1" y="333.8"/>
<use href="#m04eo" x="537.4" y="438.3"/>
<use href="#m04eo" x="587.5" y="477.7"/>
<use href="#m04eo" x="590.7" y="483.3"/>
<use href="#m04eo" x="593.7" y="485.3"/>
<use href="#m04eo" x="596.4" y="482.6"/>
<use href="#m04eo" x="672.4" y="521.3"/>
<use href="#m04eo" x="730.2" y="550.4"/>
<use href="#m04eo" x="745.2" y="555.9"/>
<use href="#m04eo" x="801.4" y="576.7"/>
</g>
<rect x="399.2" y="72.55" width="456.50000000000006" height="174.8" fill="#fff"/>
<g>
<polyline clip-path="url(#ci)" points="398.7,137.9 402.2,132.4 406.2,124.4 426.2,90.8 459.7,87.8 462.5,82.7 465.7,87 472.2,86.6 475.2,88.1 501.2,97.7 505.2,96.1 521,107.2 546,122.2 556.3,127.6 564.8,133.6 570,138.6 614.8,151.4 671.8,168.6 715.3,186.8 723.8,188.3 760.3,195 789.3,200.3 800.3,200.8 811.8,202.7 860.4,212.8 910.4,222.8 964.4,233.4 991.9,239 1050.4,245.4 1102.5,250.4 1185.5,260.6 1269,270.7 1360.5,281.4 1460.6,293.4 1505.6,299.2 1551.6,305.9 1574.6,310.7 1602.1,308.3 1736.2,325.3 1810.7,332.3 1874.2,337.7 1935.8,343.3 1975.8,346.9 2031.3,356.6 2110.8,365.9 2192.9,375.8 2210.9,377.6 2245.9,379.8 2298.4,382.4 2325.9,385.1 2358.4,388.7 2380.9,391.3" fill="none" stroke="#00ffff" stroke-width="1.45" stroke-dasharray="16.5 3.5 2.5 3.5"/>
<use href="#m91T" x="398.7" y="137.9"/>
<use href="#m91T" x="402.2" y="132.4"/>
<use href="#m91T" x="406.2" y="124.4"/>
<use href="#m91T" x="426.2" y="90.8"/>
<use href="#m91T" x="459.7" y="87.8"/>
<use href="#m91T" x="462.5" y="82.7"/>
<use href="#m91T" x="465.7" y="87"/>
<use href="#m91T" x="472.2" y="86.6"/>
<use href="#m91T" x="475.2" y="88.1"/>
<use href="#m91T" x="501.2" y="97.7"/>
<use href="#m91T" x="505.2" y="96.1"/>
<use href="#m91T" x="521" y="107.2"/>
<use href="#m91T" x="546" y="122.2"/>
<use href="#m91T" x="556.3" y="127.6"/>
<use href="#m91T" x="564.8" y="133.6"/>
<use href="#m91T" x="570" y="138.6"/>
<use href="#m91T" x="614.8" y="151.4"/>
<use href="#m91T" x="671.8" y="168.6"/>
<polyline clip-path="url(#ci)" points="441.7,206.7 446.5,205.1 460.9,194.8 463.6,191.7 465.4,193 469.1,195.1 470.5,192.3 475.3,195.1 479.4,194.8 484.2,197.8 489,201.3 494.5,205.4 505.2,213.3 529,233.9 536,238.4 548.2,245.9 552.7,249.9 557.7,253 567.1,257.9 576.9,262.4 585.4,266.5 596.1,270.6 603.7,273.8 610.5,276.5 620.1,280.1 632.5,284.8 639,284.2 655.4,289.9 667.8,295.3 687,300.7 706.2,305.9 720.6,311.8 725.4,305.9 730.2,312.5 735,314.2 739.8,313 744.6,317.6 753.9,318.8 768.3,329.4 811.2,331.3 825.6,331.8 830.4,337.6 835.2,331.8 840,338.8 846.7,338.3 855.5,345.3 883.2,351.2 903.2,353.5 994.9,369.2 1025.1,376.6 1045.2,370.4 1154.4,402.5 1174.4,409.3 1325.7,427 1420.8,452.4" fill="none" stroke="#000000" stroke-width="1.45" stroke-dasharray="22.5 7.5"/>
<use href="#m91bg" x="441.7" y="206.7"/>
<use href="#m91bg" x="446.5" y="205.1"/>
<use href="#m91bg" x="460.9" y="194.8"/>
<use href="#m91bg" x="463.6" y="191.7"/>
<use href="#m91bg" x="465.4" y="193"/>
<use href="#m91bg" x="469.1" y="195.1"/>
<use href="#m91bg" x="470.5" y="192.3"/>
<use href="#m91bg" x="475.3" y="195.1"/>
<use href="#m91bg" x="479.4" y="194.8"/>
<use href="#m91bg" x="484.2" y="197.8"/>
<use href="#m91bg" x="489" y="201.3"/>
<use href="#m91bg" x="494.5" y="205.4"/>
<use href="#m91bg" x="505.2" y="213.3"/>
<use href="#m91bg" x="529" y="233.9"/>
<use href="#m91bg" x="536" y="238.4"/>
<use href="#m91bg" x="548.2" y="245.9"/>
<polyline clip-path="url(#ci)" points="425.2,149.8 430.2,144.2 435.2,139.8 440.2,135.3 445.2,132.5 450.2,130.3 455.2,128.4 460.2,126.5 465.2,127.8 470.2,128.5 475.2,129.4 480.2,131 485.2,133.2 490.2,136.2 495.2,139.4 500.2,142.5 505.2,146.4 510.2,150.8 515.2,154.9 518.2,157.8 523.2,161.6 528.2,164.8 533.2,168.3 538.8,172.1 545.3,175.5 551.8,177.6 558.8,181 565.3,183.4 570.3,186.3 624.3,216.2 629.8,217.6 634.8,218 644.8,220.9 649.3,222.3 659.3,224.8 691.8,234.2 710.8,238.9 723.8,242 742.8,246.7 761.8,247.5 819.4,258.4 838.4,263.9 854.4,267.9 911.9,277.6 1406.1,346.7 1485.6,358.7 1500.6,360.6 1593.6,364.4 1620.6,371.2 1785.2,390.4 1799.7,393.7 1849.7,391.3 1857.2,393.2 1870.7,400 1929.8,402.8 1960.8,408.6 1965.8,410.5 2039.8,414.4 2132.8,427.3 2154.3,424 2385.9,452.8" fill="none" stroke="#000000" stroke-width="1.5"/>
<use href="#m92A" x="425.2" y="149.8"/>
<use href="#m92A" x="430.2" y="144.2"/>
<use href="#m92A" x="435.2" y="139.8"/>
<use href="#m92A" x="440.2" y="135.3"/>
<use href="#m92A" x="445.2" y="132.5"/>
<use href="#m92A" x="450.2" y="130.3"/>
<use href="#m92A" x="455.2" y="128.4"/>
<use href="#m92A" x="460.2" y="126.5"/>
<use href="#m92A" x="465.2" y="127.8"/>
<use href="#m92A" x="470.2" y="128.5"/>
<use href="#m92A" x="475.2" y="129.4"/>
<use href="#m92A" x="480.2" y="131"/>
<use href="#m92A" x="485.2" y="133.2"/>
<use href="#m92A" x="490.2" y="136.2"/>
<use href="#m92A" x="495.2" y="139.4"/>
<use href="#m92A" x="500.2" y="142.5"/>
<use href="#m92A" x="505.2" y="146.4"/>
<use href="#m92A" x="510.2" y="150.8"/>
<use href="#m92A" x="515.2" y="154.9"/>
<use href="#m92A" x="518.2" y="157.8"/>
<use href="#m92A" x="523.2" y="161.6"/>
<use href="#m92A" x="528.2" y="164.8"/>
<use href="#m92A" x="533.2" y="168.3"/>
<use href="#m92A" x="538.8" y="172.1"/>
<use href="#m92A" x="545.3" y="175.5"/>
<use href="#m92A" x="551.8" y="177.6"/>
<use href="#m92A" x="558.8" y="181"/>
<use href="#m92A" x="565.3" y="183.4"/>
<use href="#m92A" x="570.3" y="186.3"/>
<use href="#m92A" x="624.3" y="216.2"/>
<use href="#m92A" x="629.8" y="217.6"/>
<use href="#m92A" x="634.8" y="218"/>
<use href="#m92A" x="644.8" y="220.9"/>
<use href="#m92A" x="649.3" y="222.3"/>
<use href="#m92A" x="659.3" y="224.8"/>
<polyline clip-path="url(#ci)" points="392.7,215.3 398.7,193 403.2,175 408.2,161.9 413.2,151.4 418.2,141.9 423.2,134.9 428.2,128.5 433.2,123.7 438.2,119.6 443.2,115.9 448.2,113.5 453.2,112.3 458.2,111.4 463.2,111.3 468.2,112.2 473.2,113.1 478.2,114.8 483.2,116.5 488.2,117.6 493.2,120.3 498.2,123.1 503.2,125.5 508.2,128 513.2,130 518.2,132.7 523.2,136.7 528.2,139.7 533.2,143.6 550.3,151.7 585.3,166.1 620.8,178.5 681.8,202.8 729.8,213 780.8,229.5 857.9,236.9 879.9,242.8 946.9,251.4 969.4,255.8" fill="none" stroke="#ffff00" stroke-width="1.7" stroke-dasharray="18 4 6 4"/>
<use href="#m02bo" x="398.7" y="193"/>
<use href="#m02bo" x="403.2" y="175"/>
<use href="#m02bo" x="408.2" y="161.9"/>
<use href="#m02bo" x="413.2" y="151.4"/>
<use href="#m02bo" x="418.2" y="141.9"/>
<use href="#m02bo" x="423.2" y="134.9"/>
<use href="#m02bo" x="428.2" y="128.5"/>
<use href="#m02bo" x="433.2" y="123.7"/>
<use href="#m02bo" x="438.2" y="119.6"/>
<use href="#m02bo" x="443.2" y="115.9"/>
<use href="#m02bo" x="448.2" y="113.5"/>
<use href="#m02bo" x="453.2" y="112.3"/>
<use href="#m02bo" x="458.2" y="111.4"/>
<use href="#m02bo" x="463.2" y="111.3"/>
<use href="#m02bo" x="468.2" y="112.2"/>
<use href="#m02bo" x="473.2" y="113.1"/>
<use href="#m02bo" x="478.2" y="114.8"/>
<use href="#m02bo" x="483.2" y="116.5"/>
<use href="#m02bo" x="488.2" y="117.6"/>
<use href="#m02bo" x="493.2" y="120.3"/>
<use href="#m02bo" x="498.2" y="123.1"/>
<use href="#m02bo" x="503.2" y="125.5"/>
<use href="#m02bo" x="508.2" y="128"/>
<use href="#m02bo" x="513.2" y="130"/>
<use href="#m02bo" x="518.2" y="132.7"/>
<use href="#m02bo" x="523.2" y="136.7"/>
<use href="#m02bo" x="528.2" y="139.7"/>
<use href="#m02bo" x="533.2" y="143.6"/>
<use href="#m02bo" x="550.3" y="151.7"/>
<use href="#m02bo" x="585.3" y="166.1"/>
<use href="#m02bo" x="620.8" y="178.5"/>
<polyline clip-path="url(#ci)" points="422.2,123.6 426.7,119.5 431.2,116 435.7,113.2 440.2,110.9 444.7,109.1 449.2,106.9 453.7,105.7 458.2,105 462.7,105 467.2,104.8 471.7,106.1 476.2,107.4 480.7,108.6 485.2,110.7 489.7,113.1 494.2,115.5 498.7,118.5 503.2,121.5 507.7,124.6 512.2,128.7 516.7,132.8 521.2,135.9 530.2,143.8 538.8,147.9 550.8,153.5 560.8,158.6 569.3,160.7 576.3,163.7 582.8,165.5 598.3,171.7 616.3,180.4 643.3,193.6 710.3,213.2 1354,318.4 1471.1,331.8 1537.1,340.4" fill="none" stroke="#ff00ff" stroke-width="1.45" stroke-dasharray="14 3.5 2.5 3.5"/>
<use href="#m02er" x="422.2" y="123.6"/>
<use href="#m02er" x="426.7" y="119.5"/>
<use href="#m02er" x="431.2" y="116"/>
<use href="#m02er" x="435.7" y="113.2"/>
<use href="#m02er" x="440.2" y="110.9"/>
<use href="#m02er" x="444.7" y="109.1"/>
<use href="#m02er" x="449.2" y="106.9"/>
<use href="#m02er" x="453.7" y="105.7"/>
<use href="#m02er" x="458.2" y="105"/>
<use href="#m02er" x="462.7" y="105"/>
<use href="#m02er" x="467.2" y="104.8"/>
<use href="#m02er" x="471.7" y="106.1"/>
<use href="#m02er" x="476.2" y="107.4"/>
<use href="#m02er" x="480.7" y="108.6"/>
<use href="#m02er" x="485.2" y="110.7"/>
<use href="#m02er" x="489.7" y="113.1"/>
<use href="#m02er" x="494.2" y="115.5"/>
<use href="#m02er" x="498.7" y="118.5"/>
<use href="#m02er" x="503.2" y="121.5"/>
<use href="#m02er" x="507.7" y="124.6"/>
<use href="#m02er" x="512.2" y="128.7"/>
<use href="#m02er" x="516.7" y="132.8"/>
<use href="#m02er" x="521.2" y="135.9"/>
<use href="#m02er" x="530.2" y="143.8"/>
<use href="#m02er" x="538.8" y="147.9"/>
<use href="#m02er" x="550.8" y="153.5"/>
<use href="#m02er" x="560.8" y="158.6"/>
<use href="#m02er" x="569.3" y="160.7"/>
<use href="#m02er" x="576.3" y="163.7"/>
<use href="#m02er" x="582.8" y="165.5"/>
<use href="#m02er" x="598.3" y="171.7"/>
<use href="#m02er" x="616.3" y="180.4"/>
<use href="#m02er" x="643.3" y="193.6"/>
<polyline clip-path="url(#ci)" points="405.2,174.9 409.2,168.4 413.2,162 417.2,156.5 421.2,151.7 425.2,147.1 429.2,144.1 433.2,140.2 437.2,138.5 441.2,135.5 445.2,133.5 449.2,132.2 453.2,131.1 457.2,132.1 461.2,130.8 465.2,130.9 469.2,131.5 473.2,133.2 477.2,133.8 481.2,134.5 485.2,137.7 489.2,138.6 493.2,140.3 497.2,143.3 501.2,144.9 505.2,148 509.2,150.2 513.2,152.5 517.2,154.4 521.2,156.7 525.2,158.2 529.2,160.9 535.2,163.4 542.3,166.1 549.3,170 556.3,174.7 563.3,175.9 570.3,178.8 577.3,180.1 584.3,182.4 591.3,184.7 598.3,189.3 605.3,194.7 612.3,198 619.3,199.9 626.3,204.1 633.3,206.2 640.3,209.9 647.3,213.5 654.3,214.7 661.3,218.5 668.3,221.4 677.8,220.6 687.3,225.9 696.8,226 706.3,227.9 715.8,230.8 725.3,234.4 734.8,234.6 744.3,238.9 753.8,241.2 763.3,242.9 891.4,268 1001.9,287.6 1125,306.9 1139,308.4 1175,314.5 1560.6,363.5 2312.4,444.9 2315.4,445.3" fill="none" stroke="#00ffff" stroke-width="1.6" stroke-dasharray="2 4.3"/>
<use href="#m03du" x="405.2" y="174.9"/>
<use href="#m03du" x="409.2" y="168.4"/>
<use href="#m03du" x="413.2" y="162"/>
<use href="#m03du" x="417.2" y="156.5"/>
<use href="#m03du" x="421.2" y="151.7"/>
<use href="#m03du" x="425.2" y="147.1"/>
<use href="#m03du" x="429.2" y="144.1"/>
<use href="#m03du" x="433.2" y="140.2"/>
<use href="#m03du" x="437.2" y="138.5"/>
<use href="#m03du" x="441.2" y="135.5"/>
<use href="#m03du" x="445.2" y="133.5"/>
<use href="#m03du" x="449.2" y="132.2"/>
<use href="#m03du" x="453.2" y="131.1"/>
<use href="#m03du" x="457.2" y="132.1"/>
<use href="#m03du" x="461.2" y="130.8"/>
<use href="#m03du" x="465.2" y="130.9"/>
<use href="#m03du" x="469.2" y="131.5"/>
<use href="#m03du" x="473.2" y="133.2"/>
<use href="#m03du" x="477.2" y="133.8"/>
<use href="#m03du" x="481.2" y="134.5"/>
<use href="#m03du" x="485.2" y="137.7"/>
<use href="#m03du" x="489.2" y="138.6"/>
<use href="#m03du" x="493.2" y="140.3"/>
<use href="#m03du" x="497.2" y="143.3"/>
<use href="#m03du" x="501.2" y="144.9"/>
<use href="#m03du" x="505.2" y="148"/>
<use href="#m03du" x="509.2" y="150.2"/>
<use href="#m03du" x="513.2" y="152.5"/>
<use href="#m03du" x="517.2" y="154.4"/>
<use href="#m03du" x="521.2" y="156.7"/>
<use href="#m03du" x="525.2" y="158.2"/>
<use href="#m03du" x="529.2" y="160.9"/>
<use href="#m03du" x="535.2" y="163.4"/>
<use href="#m03du" x="542.3" y="166.1"/>
<use href="#m03du" x="549.3" y="170"/>
<use href="#m03du" x="556.3" y="174.7"/>
<use href="#m03du" x="563.3" y="175.9"/>
<use href="#m03du" x="570.3" y="178.8"/>
<use href="#m03du" x="577.3" y="180.1"/>
<use href="#m03du" x="584.3" y="182.4"/>
<use href="#m03du" x="591.3" y="184.7"/>
<use href="#m03du" x="598.3" y="189.3"/>
<use href="#m03du" x="605.3" y="194.7"/>
<use href="#m03du" x="612.3" y="198"/>
<use href="#m03du" x="619.3" y="199.9"/>
<use href="#m03du" x="626.3" y="204.1"/>
<use href="#m03du" x="633.3" y="206.2"/>
<use href="#m03du" x="640.3" y="209.9"/>
<use href="#m03du" x="647.3" y="213.5"/>
<use href="#m03du" x="654.3" y="214.7"/>
<use href="#m03du" x="661.3" y="218.5"/>
<use href="#m03du" x="668.3" y="221.4"/>
<polyline clip-path="url(#ci)" points="430.2,130.8 435.2,126.7 440.2,123.2 445.2,121.1 450.2,119.2 455.2,118.3 460.2,117.4 465.2,117.3 470.2,118.3 475.2,119.2 480.2,121.3 485.2,123.5 490.2,125.9 495.2,128.9 500.2,131.9 505.2,135.8 510.2,139.1 515.2,143.9 520.2,148 525.2,152.9 530.2,157.1 542.3,165.9 550.3,169.4 560.3,172 572.8,175.2 582.8,178.3 591.3,181.3 606.3,187.4 616.8,193.5 633.8,200.1 655.3,211.3 680.3,219.2 710.3,226.7 740.3,233.4 793.8,247.2 908.9,263.9 931.4,269.4 1754.2,379.8 1950.8,396.1 2193.9,428.8 2222.9,431.6" fill="none" stroke="#00ff00" stroke-width="1.5" stroke-dasharray="23 8"/>
<use href="#m96X" x="430.2" y="130.8"/>
<use href="#m96X" x="435.2" y="126.7"/>
<use href="#m96X" x="440.2" y="123.2"/>
<use href="#m96X" x="445.2" y="121.1"/>
<use href="#m96X" x="450.2" y="119.2"/>
<use href="#m96X" x="455.2" y="118.3"/>
<use href="#m96X" x="460.2" y="117.4"/>
<use href="#m96X" x="465.2" y="117.3"/>
<use href="#m96X" x="470.2" y="118.3"/>
<use href="#m96X" x="475.2" y="119.2"/>
<use href="#m96X" x="480.2" y="121.3"/>
<use href="#m96X" x="485.2" y="123.5"/>
<use href="#m96X" x="490.2" y="125.9"/>
<use href="#m96X" x="495.2" y="128.9"/>
<use href="#m96X" x="500.2" y="131.9"/>
<use href="#m96X" x="505.2" y="135.8"/>
<use href="#m96X" x="510.2" y="139.1"/>
<use href="#m96X" x="515.2" y="143.9"/>
<use href="#m96X" x="520.2" y="148"/>
<use href="#m96X" x="525.2" y="152.9"/>
<use href="#m96X" x="530.2" y="157.1"/>
<use href="#m96X" x="542.3" y="165.9"/>
<use href="#m96X" x="550.3" y="169.4"/>
<use href="#m96X" x="560.3" y="172"/>
<use href="#m96X" x="572.8" y="175.2"/>
<use href="#m96X" x="582.8" y="178.3"/>
<use href="#m96X" x="591.3" y="181.3"/>
<use href="#m96X" x="606.3" y="187.4"/>
<use href="#m96X" x="616.8" y="193.5"/>
<use href="#m96X" x="633.8" y="200.1"/>
<use href="#m96X" x="655.3" y="211.3"/>
<polyline clip-path="url(#ci)" points="403.7,189.8 405.7,180.8 408.2,167.1 411.7,156.7 415.2,148.1 418.7,142 422.2,135.3 425.7,131.1 429.2,126.5 432.7,123.3 436.2,119.4 439.7,116.7 443.2,114.5 446.7,112.4 450.2,111.3 453.7,110 457.2,109.9 460.7,109.9 464.2,109.8 467.7,109.9 471.2,110.2 474.7,111.4 478.2,113.7 481.7,114.3 485.2,115.5 488.7,117.8 492.2,120.1 495.7,122.1 499.2,124.9 502.7,126.9 506.2,129.7 509.7,131.7 513.2,134.6 516.7,137.6 520.2,139.6 523.7,141.9 527.2,145 535.2,150.7 542,156.8 548.8,158.9 555.5,164.2 562.3,168.7 569,170.9 575.8,171.9 582.5,173.6 589.3,177.3 596,180.8 602.8,186.2 609.5,190.3 616.3,192.1 623,195.8 629.8,199.3 636.5,201.3 643.3,205.7 650,207.9 656.8,209.3 663.5,211.1 670.3,214.7 677.1,215.3 690.3,220.3 700.3,221.8 710.3,224.4 720.3,227.6 730.3,228.2 740.3,229.7 750.3,232.5 767.8,236.3 790.3,240 851.4,252.4 863.9,254.5 873.4,256.9 943.9,272.6 1030.4,286.7 1925.3,397.6 2029.3,415.3 2065.3,415.8 2142.3,429.7" fill="none" stroke="#ff0000" stroke-width="1.6" stroke-dasharray="23 8"/>
<use href="#m94D" x="403.7" y="189.8"/>
<use href="#m94D" x="405.7" y="180.8"/>
<use href="#m94D" x="408.2" y="167.1"/>
<use href="#m94D" x="411.7" y="156.7"/>
<use href="#m94D" x="415.2" y="148.1"/>
<use href="#m94D" x="418.7" y="142"/>
<use href="#m94D" x="422.2" y="135.3"/>
<use href="#m94D" x="425.7" y="131.1"/>
<use href="#m94D" x="429.2" y="126.5"/>
<use href="#m94D" x="432.7" y="123.3"/>
<use href="#m94D" x="436.2" y="119.4"/>
<use href="#m94D" x="439.7" y="116.7"/>
<use href="#m94D" x="443.2" y="114.5"/>
<use href="#m94D" x="446.7" y="112.4"/>
<use href="#m94D" x="450.2" y="111.3"/>
<use href="#m94D" x="453.7" y="110"/>
<use href="#m94D" x="457.2" y="109.9"/>
<use href="#m94D" x="460.7" y="109.9"/>
<use href="#m94D" x="464.2" y="109.8"/>
<use href="#m94D" x="467.7" y="109.9"/>
<use href="#m94D" x="471.2" y="110.2"/>
<use href="#m94D" x="474.7" y="111.4"/>
<use href="#m94D" x="478.2" y="113.7"/>
<use href="#m94D" x="481.7" y="114.3"/>
<use href="#m94D" x="485.2" y="115.5"/>
<use href="#m94D" x="488.7" y="117.8"/>
<use href="#m94D" x="492.2" y="120.1"/>
<use href="#m94D" x="495.7" y="122.1"/>
<use href="#m94D" x="499.2" y="124.9"/>
<use href="#m94D" x="502.7" y="126.9"/>
<use href="#m94D" x="506.2" y="129.7"/>
<use href="#m94D" x="509.7" y="131.7"/>
<use href="#m94D" x="513.2" y="134.6"/>
<use href="#m94D" x="516.7" y="137.6"/>
<use href="#m94D" x="520.2" y="139.6"/>
<use href="#m94D" x="523.7" y="141.9"/>
<use href="#m94D" x="527.2" y="145"/>
<use href="#m94D" x="535.2" y="150.7"/>
<use href="#m94D" x="542" y="156.8"/>
<use href="#m94D" x="548.8" y="158.9"/>
<use href="#m94D" x="555.5" y="164.2"/>
<use href="#m94D" x="562.3" y="168.7"/>
<use href="#m94D" x="569" y="170.9"/>
<use href="#m94D" x="575.8" y="171.9"/>
<use href="#m94D" x="582.5" y="173.6"/>
<use href="#m94D" x="589.3" y="177.3"/>
<use href="#m94D" x="596" y="180.8"/>
<use href="#m94D" x="602.8" y="186.2"/>
<use href="#m94D" x="609.5" y="190.3"/>
<use href="#m94D" x="616.3" y="192.1"/>
<use href="#m94D" x="623" y="195.8"/>
<use href="#m94D" x="629.8" y="199.3"/>
<use href="#m94D" x="636.5" y="201.3"/>
<use href="#m94D" x="643.3" y="205.7"/>
<use href="#m94D" x="650" y="207.9"/>
<use href="#m94D" x="656.8" y="209.3"/>
<use href="#m94D" x="663.5" y="211.1"/>
<use href="#m94D" x="670.3" y="214.7"/>
<polyline clip-path="url(#ci)" points="402.2,173.5 405.7,168.2 409.2,162.6 412.7,157.8 416.2,153.9 419.7,149.1 423.2,144.4 426.7,141.1 430.2,136.2 433.7,133.4 437.2,131.6 440.7,129.5 444.2,127.6 447.7,126.7 451.2,125.6 454.7,125.5 458.2,124.1 461.7,124.2 465.2,124.2 468.7,125.3 472.2,124.2 475.7,125.7 479.2,126.9 482.7,126.9 486.2,129.3 489.7,131.6 493.2,132.9 496.7,135.9 500.2,136.4 503.7,139.3 507.2,141.8 510.7,143.3 514.2,146.9 517.7,148.2 521.2,151.7 524.7,153 528.2,155.2 534.7,156.7 541,160.1 547.3,166.2 553.5,168.6 559.8,172.9 566,174.5 572.3,177.9 578.5,180.9 584.8,183.2 591,183.9 597.3,185.3 603.5,191 609.8,195.3 616,195.9 622.3,200.7 628.5,203.9 634.8,206.5 641,209.5 647.3,212.2 653.5,215.8 659.8,215.9 666,218.4 672.3,218.7 678.6,221.8 687.3,225.2 696.3,225.1 705.3,224.9 714.3,228.8 723.3,231.1 732.3,233.1 741.3,234.7 750.3,235.6 759.3,238.3 768.3,237.2 777.3,240.9 786.3,242.1 795.3,242.4 804.3,243.9 813.4,247.2 822.4,248.1 941.4,266 1441.6,338.5 1583.1,365.9 1592.1,369.7 1600.6,371.2 1608.1,369.2 1822.7,396.1 1985.8,416.3 2028.3,420.1 2186.8,434.5" fill="none" stroke="#0000ff" stroke-width="1.0"/>
<use href="#m04eo" x="402.2" y="173.5"/>
<use href="#m04eo" x="405.7" y="168.2"/>
<use href="#m04eo" x="409.2" y="162.6"/>
<use href="#m04eo" x="412.7" y="157.8"/>
<use href="#m04eo" x="416.2" y="153.9"/>
<use href="#m04eo" x="419.7" y="149.1"/>
<use href="#m04eo" x="423.2" y="144.4"/>
<use href="#m04eo" x="426.7" y="141.1"/>
<use href="#m04eo" x="430.2" y="136.2"/>
<use href="#m04eo" x="433.7" y="133.4"/>
<use href="#m04eo" x="437.2" y="131.6"/>
<use href="#m04eo" x="440.7" y="129.5"/>
<use href="#m04eo" x="444.2" y="127.6"/>
<use href="#m04eo" x="447.7" y="126.7"/>
<use href="#m04eo" x="451.2" y="125.6"/>
<use href="#m04eo" x="454.7" y="125.5"/>
<use href="#m04eo" x="458.2" y="124.1"/>
<use href="#m04eo" x="461.7" y="124.2"/>
<use href="#m04eo" x="465.2" y="124.2"/>
<use href="#m04eo" x="468.7" y="125.3"/>
<use href="#m04eo" x="472.2" y="124.2"/>
<use href="#m04eo" x="475.7" y="125.7"/>
<use href="#m04eo" x="479.2" y="126.9"/>
<use href="#m04eo" x="482.7" y="126.9"/>
<use href="#m04eo" x="486.2" y="129.3"/>
<use href="#m04eo" x="489.7" y="131.6"/>
<use href="#m04eo" x="493.2" y="132.9"/>
<use href="#m04eo" x="496.7" y="135.9"/>
<use href="#m04eo" x="500.2" y="136.4"/>
<use href="#m04eo" x="503.7" y="139.3"/>
<use href="#m04eo" x="507.2" y="141.8"/>
<use href="#m04eo" x="510.7" y="143.3"/>
<use href="#m04eo" x="514.2" y="146.9"/>
<use href="#m04eo" x="517.7" y="148.2"/>
<use href="#m04eo" x="521.2" y="151.7"/>
<use href="#m04eo" x="524.7" y="153"/>
<use href="#m04eo" x="528.2" y="155.2"/>
<use href="#m04eo" x="534.7" y="156.7"/>
<use href="#m04eo" x="541" y="160.1"/>
<use href="#m04eo" x="547.3" y="166.2"/>
<use href="#m04eo" x="553.5" y="168.6"/>
<use href="#m04eo" x="559.8" y="172.9"/>
<use href="#m04eo" x="566" y="174.5"/>
<use href="#m04eo" x="572.3" y="177.9"/>
<use href="#m04eo" x="578.5" y="180.9"/>
<use href="#m04eo" x="584.8" y="183.2"/>
<use href="#m04eo" x="591" y="183.9"/>
<use href="#m04eo" x="597.3" y="185.3"/>
<use href="#m04eo" x="603.5" y="191"/>
<use href="#m04eo" x="609.8" y="195.3"/>
<use href="#m04eo" x="616" y="195.9"/>
<use href="#m04eo" x="622.3" y="200.7"/>
<use href="#m04eo" x="628.5" y="203.9"/>
<use href="#m04eo" x="634.8" y="206.5"/>
<use href="#m04eo" x="641" y="209.5"/>
<use href="#m04eo" x="647.3" y="212.2"/>
<use href="#m04eo" x="653.5" y="215.8"/>
<use href="#m04eo" x="659.8" y="215.9"/>
<use href="#m04eo" x="666" y="218.4"/>
<use href="#m04eo" x="672.3" y="218.7"/>
</g>
<path d="M154.2 596.05v-5.0M154.2 56.3v5.0M171.9 596.05v-5.0M171.9 56.3v5.0M189.6 596.05v-10.0M189.6 56.3v10.0M207.4 596.05v-5.0M207.4 56.3v5.0M225.1 596.05v-5.0M225.1 56.3v5.0M242.8 596.05v-5.0M242.8 56.3v5.0M260.5 596.05v-5.0M260.5 56.3v5.0M278.3 596.05v-10.0M278.3 56.3v10.0M296 596.05v-5.0M296 56.3v5.0M313.7 596.05v-5.0M313.7 56.3v5.0M331.4 596.05v-5.0M331.4 56.3v5.0M349.1 596.05v-5.0M349.1 56.3v5.0M366.9 596.05v-10.0M366.9 56.3v10.0M384.6 596.05v-5.0M384.6 56.3v5.0M402.3 596.05v-5.0M402.3 56.3v5.0M420 596.05v-5.0M420 56.3v5.0M437.8 596.05v-5.0M437.8 56.3v5.0M455.5 596.05v-10.0M455.5 56.3v10.0M473.2 596.05v-5.0M473.2 56.3v5.0M490.9 596.05v-5.0M490.9 56.3v5.0M508.7 596.05v-5.0M508.7 56.3v5.0M526.4 596.05v-5.0M526.4 56.3v5.0M544.1 596.05v-10.0M544.1 56.3v10.0M561.8 596.05v-5.0M561.8 56.3v5.0M579.5 596.05v-5.0M579.5 56.3v5.0M597.3 596.05v-5.0M597.3 56.3v5.0M615 596.05v-5.0M615 56.3v5.0M632.7 596.05v-10.0M632.7 56.3v10.0M650.4 596.05v-5.0M650.4 56.3v5.0M668.2 596.05v-5.0M668.2 56.3v5.0M685.9 596.05v-5.0M685.9 56.3v5.0M703.6 596.05v-5.0M703.6 56.3v5.0M721.3 596.05v-10.0M721.3 56.3v10.0M739 596.05v-5.0M739 56.3v5.0M756.8 596.05v-5.0M756.8 56.3v5.0M774.5 596.05v-5.0M774.5 56.3v5.0M792.2 596.05v-5.0M792.2 56.3v5.0M809.9 596.05v-10.0M809.9 56.3v10.0M827.7 596.05v-5.0M827.7 56.3v5.0M845.4 596.05v-5.0M845.4 56.3v5.0M863.1 596.05v-5.0M863.1 56.3v5.0M154.2 596h5.0M863.1 596h-5.0M154.2 582.2h5.0M863.1 582.2h-5.0M154.2 568.4h5.0M863.1 568.4h-5.0M154.2 554.5h5.0M863.1 554.5h-5.0M154.2 540.7h10.0M863.1 540.7h-10.0M154.2 526.9h5.0M863.1 526.9h-5.0M154.2 513h5.0M863.1 513h-5.0M154.2 499.2h5.0M863.1 499.2h-5.0M154.2 485.3h5.0M863.1 485.3h-5.0M154.2 471.5h5.0M863.1 471.5h-5.0M154.2 457.7h5.0M863.1 457.7h-5.0M154.2 443.8h5.0M863.1 443.8h-5.0M154.2 430h5.0M863.1 430h-5.0M154.2 416.1h5.0M863.1 416.1h-5.0M154.2 402.3h10.0M863.1 402.3h-10.0M154.2 388.5h5.0M863.1 388.5h-5.0M154.2 374.6h5.0M863.1 374.6h-5.0M154.2 360.8h5.0M863.1 360.8h-5.0M154.2 346.9h5.0M863.1 346.9h-5.0M154.2 333.1h5.0M863.1 333.1h-5.0M154.2 319.3h5.0M863.1 319.3h-5.0M154.2 305.4h5.0M863.1 305.4h-5.0M154.2 291.6h5.0M863.1 291.6h-5.0M154.2 277.7h5.0M863.1 277.7h-5.0M154.2 263.9h10.0M863.1 263.9h-10.0M154.2 250.1h5.0M863.1 250.1h-5.0M154.2 236.2h5.0M863.1 236.2h-5.0M154.2 222.4h5.0M863.1 222.4h-5.0M154.2 208.5h5.0M863.1 208.5h-5.0M154.2 194.7h5.0M863.1 194.7h-5.0M154.2 180.9h5.0M863.1 180.9h-5.0M154.2 167h5.0M863.1 167h-5.0M154.2 153.2h5.0M863.1 153.2h-5.0M154.2 139.3h5.0M863.1 139.3h-5.0M154.2 125.5h10.0M863.1 125.5h-10.0M154.2 111.7h5.0M863.1 111.7h-5.0M154.2 97.8h5.0M863.1 97.8h-5.0M154.2 84h5.0M863.1 84h-5.0M154.2 70.1h5.0M863.1 70.1h-5.0M154.2 56.3h5.0M863.1 56.3h-5.0" stroke="#000" stroke-width="1.6" fill="none"/>
<path d="M400.2 246.35v-5.0M400.2 73.55v5.0M410.2 246.35v-10.0M410.2 73.55v10.0M420.2 246.35v-5.0M420.2 73.55v5.0M430.2 246.35v-5.0M430.2 73.55v5.0M440.2 246.35v-5.0M440.2 73.55v5.0M450.2 246.35v-5.0M450.2 73.55v5.0M460.2 246.35v-10.0M460.2 73.55v10.0M470.2 246.35v-5.0M470.2 73.55v5.0M480.2 246.35v-5.0M480.2 73.55v5.0M490.2 246.35v-5.0M490.2 73.55v5.0M500.2 246.35v-5.0M500.2 73.55v5.0M510.2 246.35v-10.0M510.2 73.55v10.0M520.2 246.35v-5.0M520.2 73.55v5.0M530.2 246.35v-5.0M530.2 73.55v5.0M540.3 246.35v-5.0M540.3 73.55v5.0M550.3 246.35v-5.0M550.3 73.55v5.0M560.3 246.35v-10.0M560.3 73.55v10.0M570.3 246.35v-5.0M570.3 73.55v5.0M580.3 246.35v-5.0M580.3 73.55v5.0M590.3 246.35v-5.0M590.3 73.55v5.0M600.3 246.35v-5.0M600.3 73.55v5.0M610.3 246.35v-10.0M610.3 73.55v10.0M620.3 246.35v-5.0M620.3 73.55v5.0M630.3 246.35v-5.0M630.3 73.55v5.0M640.3 246.35v-5.0M640.3 73.55v5.0M650.3 246.35v-5.0M650.3 73.55v5.0M660.3 246.35v-10.0M660.3 73.55v10.0M670.3 246.35v-5.0M670.3 73.55v5.0M400.2 246.4h5.0M675.3 246.4h-5.0M400.2 236.8h5.0M675.3 236.8h-5.0M400.2 227.2h5.0M675.3 227.2h-5.0M400.2 217.6h10.0M675.3 217.6h-10.0M400.2 208h5.0M675.3 208h-5.0M400.2 198.3h5.0M675.3 198.3h-5.0M400.2 188.8h5.0M675.3 188.8h-5.0M400.2 179.2h5.0M675.3 179.2h-5.0M400.2 169.6h10.0M675.3 169.6h-10.0M400.2 159.9h5.0M675.3 159.9h-5.0M400.2 150.3h5.0M675.3 150.3h-5.0M400.2 140.8h5.0M675.3 140.8h-5.0M400.2 131.2h5.0M675.3 131.2h-5.0M400.2 121.6h10.0M675.3 121.6h-10.0M400.2 111.9h5.0M675.3 111.9h-5.0M400.2 102.3h5.0M675.3 102.3h-5.0M400.2 92.8h5.0M675.3 92.8h-5.0M400.2 83.2h5.0M675.3 83.2h-5.0M400.2 73.5h10.0M675.3 73.5h-10.0" stroke="#000" stroke-width="1.6" fill="none"/>
<rect x="154.2" y="56.3" width="708.9000000000001" height="539.75" fill="none" stroke="#000" stroke-width="2"/>
<rect x="400.2" y="73.55" width="275.09999999999997" height="172.8" fill="none" stroke="#000" stroke-width="2"/>
<rect x="680.7" y="73.6" width="174.0" height="172.4" fill="#fff" stroke="#000" stroke-width="1.3"/>
<use href="#m04eo" x="703.3" y="95.6"/>
<text x="784.6" y="103.4" font-family="Liberation Sans, sans-serif" font-size="16.1" font-weight="normal" text-anchor="middle" fill="#0000ff" stroke="#0000ff" stroke-width="0.02">SN 2004eo</text>
<use href="#m02bo" x="703.3" y="117.1"/>
<text x="784.6" y="124.9" font-family="Liberation Sans, sans-serif" font-size="16.1" font-weight="normal" text-anchor="middle" fill="#ffff00" stroke="#ffff00" stroke-width="0.02">SN 2002bo</text>
<use href="#m02er" x="703.3" y="138.7"/>
<text x="784.6" y="146.5" font-family="Liberation Sans, sans-serif" font-size="16.1" font-weight="normal" text-anchor="middle" fill="#ff00ff" stroke="#ff00ff" stroke-width="0.02">SN 2002er</text>
<use href="#m03du" x="703.3" y="160.2"/>
<text x="784.6" y="168.1" font-family="Liberation Sans, sans-serif" font-size="16.1" font-weight="normal" text-anchor="middle" fill="#00ffff" stroke="#00ffff" stroke-width="0.02">SN 2003du</text>
<use href="#m96X" x="703.3" y="181.8"/>
<text x="784.6" y="189.6" font-family="Liberation Sans, sans-serif" font-size="16.1" font-weight="normal" text-anchor="middle" fill="#00ff00" stroke="#00ff00" stroke-width="0.02">SN 1996X</text>
<use href="#m94D" x="703.3" y="203.3"/>
<text x="784.6" y="211.2" font-family="Liberation Sans, sans-serif" font-size="16.1" font-weight="normal" text-anchor="middle" fill="#ff0000" stroke="#ff0000" stroke-width="0.02">SN 1994D</text>
<use href="#m92A" x="703.3" y="224.9"/>
<text x="784.6" y="232.7" font-family="Liberation Sans, sans-serif" font-size="16.1" font-weight="normal" text-anchor="middle" fill="#000000" stroke="#000000" stroke-width="0.02">SN 1992A</text>
<text x="189.6" y="618.6" font-family="Liberation Serif, serif" font-size="20.5" font-weight="normal" text-anchor="middle" fill="#000" textLength="12.3" lengthAdjust="spacingAndGlyphs" stroke="#000" stroke-width="0.02">0</text>
<text x="278.3" y="618.6" font-family="Liberation Serif, serif" font-size="20.5" font-weight="normal" text-anchor="middle" fill="#000" textLength="24.6" lengthAdjust="spacingAndGlyphs" stroke="#000" stroke-width="0.02">50</text>
<text x="366.9" y="618.6" font-family="Liberation Serif, serif" font-size="20.5" font-weight="normal" text-anchor="middle" fill="#000" textLength="36.9" lengthAdjust="spacingAndGlyphs" stroke="#000" stroke-width="0.02">100</text>
<text x="455.5" y="618.6" font-family="Liberation Serif, serif" font-size="20.5" font-weight="normal" text-anchor="middle" fill="#000" textLength="36.9" lengthAdjust="spacingAndGlyphs" stroke="#000" stroke-width="0.02">150</text>
<text x="544.1" y="618.6" font-family="Liberation Serif, serif" font-size="20.5" font-weight="normal" text-anchor="middle" fill="#000" textLength="36.9" lengthAdjust="spacingAndGlyphs" stroke="#000" stroke-width="0.02">200</text>
<text x="632.7" y="618.6" font-family="Liberation Serif, serif" font-size="20.5" font-weight="normal" text-anchor="middle" fill="#000" textLength="36.9" lengthAdjust="spacingAndGlyphs" stroke="#000" stroke-width="0.02">250</text>
<text x="721.3" y="618.6" font-family="Liberation Serif, serif" font-size="20.5" font-weight="normal" text-anchor="middle" fill="#000" textLength="36.9" lengthAdjust="spacingAndGlyphs" stroke="#000" stroke-width="0.02">300</text>
<text x="809.9" y="618.6" font-family="Liberation Serif, serif" font-size="20.5" font-weight="normal" text-anchor="middle" fill="#000" textLength="36.9" lengthAdjust="spacingAndGlyphs" stroke="#000" stroke-width="0.02">350</text>
<text x="142" y="547.9" font-family="Liberation Serif, serif" font-size="20.5" font-weight="normal" text-anchor="end" fill="#000" textLength="24.6" lengthAdjust="spacingAndGlyphs" stroke="#000" stroke-width="0.02">40</text>
<text x="142" y="409.5" font-family="Liberation Serif, serif" font-size="20.5" font-weight="normal" text-anchor="end" fill="#000" textLength="24.6" lengthAdjust="spacingAndGlyphs" stroke="#000" stroke-width="0.02">41</text>
<text x="142" y="271.1" font-family="Liberation Serif, serif" font-size="20.5" font-weight="normal" text-anchor="end" fill="#000" textLength="24.6" lengthAdjust="spacingAndGlyphs" stroke="#000" stroke-width="0.02">42</text>
<text x="142" y="132.7" font-family="Liberation Serif, serif" font-size="20.5" font-weight="normal" text-anchor="end" fill="#000" textLength="24.6" lengthAdjust="spacingAndGlyphs" stroke="#000" stroke-width="0.02">43</text>
<text x="460.2" y="268.6" font-family="Liberation Serif, serif" font-size="20.5" font-weight="normal" text-anchor="middle" fill="#000" textLength="12.3" lengthAdjust="spacingAndGlyphs" stroke="#000" stroke-width="0.02">0</text>
<text x="510.2" y="268.6" font-family="Liberation Serif, serif" font-size="20.5" font-weight="normal" text-anchor="middle" fill="#000" textLength="24.6" lengthAdjust="spacingAndGlyphs" stroke="#000" stroke-width="0.02">10</text>
<text x="560.3" y="268.6" font-family="Liberation Serif, serif" font-size="20.5" font-weight="normal" text-anchor="middle" fill="#000" textLength="24.6" lengthAdjust="spacingAndGlyphs" stroke="#000" stroke-width="0.02">20</text>
<text x="610.3" y="268.6" font-family="Liberation Serif, serif" font-size="20.5" font-weight="normal" text-anchor="middle" fill="#000" textLength="24.6" lengthAdjust="spacingAndGlyphs" stroke="#000" stroke-width="0.02">30</text>
<text x="660.3" y="268.6" font-family="Liberation Serif, serif" font-size="20.5" font-weight="normal" text-anchor="middle" fill="#000" textLength="24.6" lengthAdjust="spacingAndGlyphs" stroke="#000" stroke-width="0.02">40</text>
<text x="419.6" y="268.6" font-family="Liberation Serif, serif" font-size="20.5" font-weight="normal" text-anchor="middle" fill="#000" textLength="24.6" lengthAdjust="spacingAndGlyphs" stroke="#000" stroke-width="0.02">10</text>
<path d="M392.8 262.3h12.6" stroke="#000" stroke-width="1.3" fill="none"/>
<text x="387.3" y="81.1" font-family="Liberation Serif, serif" font-size="20.5" font-weight="normal" text-anchor="end" fill="#000" textLength="42" lengthAdjust="spacingAndGlyphs" stroke="#000" stroke-width="0.02">43.5</text>
<text x="387.3" y="129.2" font-family="Liberation Serif, serif" font-size="20.5" font-weight="normal" text-anchor="end" fill="#000" textLength="24.6" lengthAdjust="spacingAndGlyphs" stroke="#000" stroke-width="0.02">43</text>
<text x="387.3" y="177.2" font-family="Liberation Serif, serif" font-size="20.5" font-weight="normal" text-anchor="end" fill="#000" textLength="42" lengthAdjust="spacingAndGlyphs" stroke="#000" stroke-width="0.02">42.5</text>
<text x="387.3" y="225.2" font-family="Liberation Serif, serif" font-size="20.5" font-weight="normal" text-anchor="end" fill="#000" textLength="24.6" lengthAdjust="spacingAndGlyphs" stroke="#000" stroke-width="0.02">42</text>
<text x="383.7" y="647" font-family="Liberation Serif, serif" font-size="27" font-weight="normal" text-anchor="start" fill="#000" textLength="61.7" lengthAdjust="spacingAndGlyphs" stroke="#fff" stroke-width="0.35">Days</text>
<text x="461.9" y="647" font-family="Liberation Serif, serif" font-size="27" font-weight="normal" text-anchor="start" fill="#000" textLength="64.9" lengthAdjust="spacingAndGlyphs" stroke="#fff" stroke-width="0.35">from</text>
<text x="544.5" y="647" font-family="Liberation Serif, serif" font-size="27" font-weight="normal" text-anchor="start" fill="#000" textLength="15.5" lengthAdjust="spacingAndGlyphs" stroke="#fff" stroke-width="0.35">B</text>
<text x="575.2" y="647" font-family="Liberation Serif, serif" font-size="27" font-weight="normal" text-anchor="start" fill="#000" textLength="57.6" lengthAdjust="spacingAndGlyphs" stroke="#fff" stroke-width="0.35">max</text>
<g transform="translate(91.4 460.5) rotate(-90)">
<text x="0" y="0" font-family="Liberation Serif, serif" font-size="27" font-weight="normal" text-anchor="start" fill="#000" textLength="49.5" lengthAdjust="spacingAndGlyphs" stroke="#fff" stroke-width="0.35">log</text>
<text x="56" y="0" font-family="Liberation Serif, serif" font-size="27" font-weight="normal" text-anchor="start" fill="#000" textLength="17" lengthAdjust="spacingAndGlyphs" stroke="#fff" stroke-width="0.35">L</text>
<text x="73.5" y="7.6" font-family="Liberation Serif, serif" font-size="16.5" font-weight="normal" text-anchor="start" fill="#000" textLength="52.5" lengthAdjust="spacingAndGlyphs" stroke="#000" stroke-width="0.45">optical</text>
<text x="152" y="0" font-family="Liberation Serif, serif" font-size="27" font-weight="normal" text-anchor="start" fill="#000" textLength="57" lengthAdjust="spacingAndGlyphs" stroke="#fff" stroke-width="0.35">(erg</text>
<text x="223" y="0" font-family="Liberation Serif, serif" font-size="27" font-weight="normal" text-anchor="start" fill="#000" textLength="15" lengthAdjust="spacingAndGlyphs" stroke="#fff" stroke-width="0.35">s</text>
<text x="240.5" y="-11.2" font-family="Liberation Serif, serif" font-size="15.5" font-weight="normal" text-anchor="start" fill="#000" textLength="17" lengthAdjust="spacingAndGlyphs" stroke="#fff" stroke-width="0.2">&#8722;1</text>
<text x="260.2" y="0" font-family="Liberation Serif, serif" font-size="27" font-weight="normal" text-anchor="start" fill="#000" textLength="8.5" lengthAdjust="spacingAndGlyphs" stroke="#fff" stroke-width="0.35">)</text>
</g>
<text x="757" y="449.9" font-family="Liberation Serif, serif" font-size="18" font-weight="normal" text-anchor="start" fill="#00ffff" textLength="80.2" lengthAdjust="spacingAndGlyphs" stroke="#00ffff" stroke-width="0.55">SN 1991T</text>
<text x="517.5" y="572.4" font-family="Liberation Serif, serif" font-size="17.5" font-weight="normal" text-anchor="start" fill="#000" textLength="90.5" lengthAdjust="spacingAndGlyphs" stroke="#000" stroke-width="0.3">SN 1991bg</text>
</svg>
</body></html>
